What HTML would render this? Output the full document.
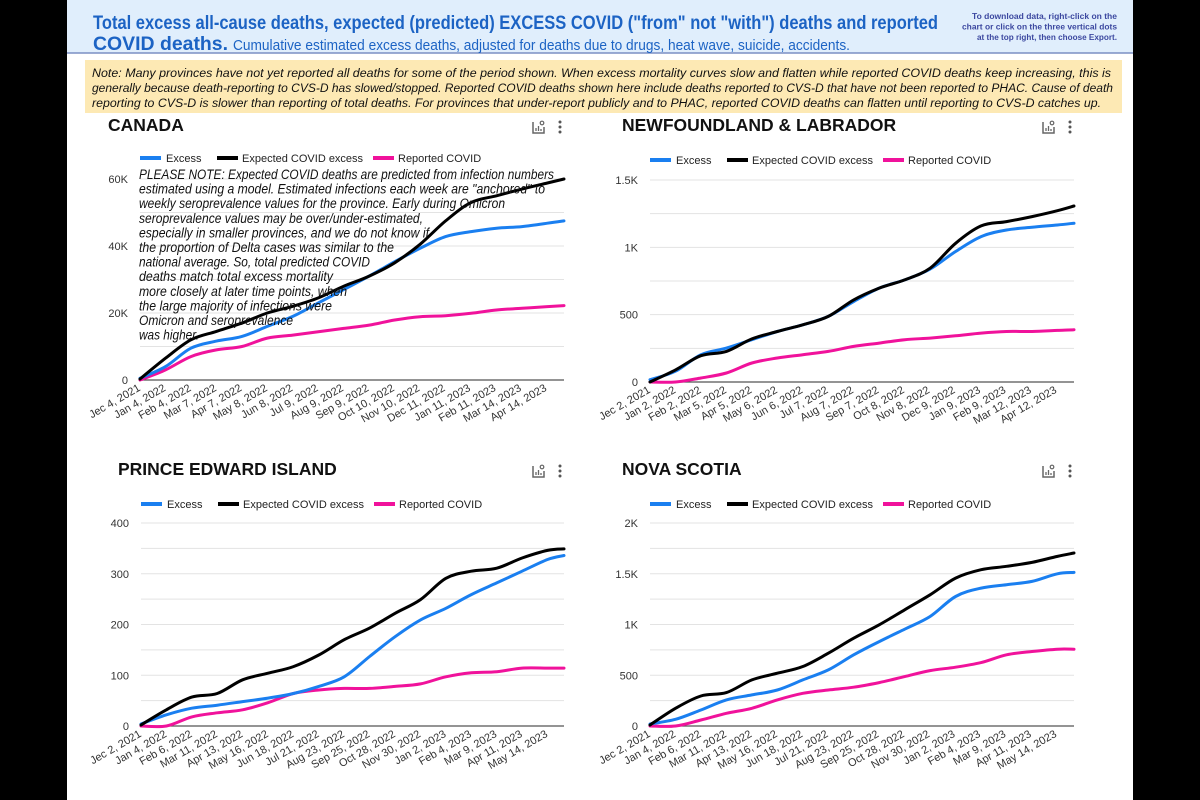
<!DOCTYPE html>
<html><head><meta charset="utf-8"><style>
html,body{margin:0;padding:0;background:#000;width:1200px;height:800px;overflow:hidden}
svg{display:block;font-family:"Liberation Sans",Arial,sans-serif}
</style></head><body>
<svg id="root" width="1200" height="800" viewBox="0 0 1200 800">
<rect x="0" y="0" width="1200" height="800" fill="#000"/>
<rect x="67" y="0" width="1066" height="800" fill="#fff"/>
<g>
<rect x="67" y="0" width="1066" height="53" fill="#e0eefc"/>
<line x1="67" y1="53" x2="1133" y2="53" stroke="#7b8fc4" stroke-width="1.5"/>
<text x="93" y="29" font-size="19.5" font-weight="bold" fill="#1c63c4" textLength="845" lengthAdjust="spacingAndGlyphs">Total excess all-cause deaths, expected (predicted) EXCESS COVID ("from" not "with") deaths and reported</text>
<text x="93" y="50" font-size="19.5" font-weight="bold" fill="#1c63c4" textLength="135" lengthAdjust="spacingAndGlyphs">COVID deaths.</text>
<text x="233" y="50" font-size="14.5" fill="#1c63c4" textLength="617" lengthAdjust="spacingAndGlyphs">Cumulative estimated excess deaths, adjusted for deaths due to drugs, heat wave, suicide, accidents.</text>
<g font-size="8.6" font-weight="bold" fill="#3c48a0">
<text x="972" y="19" textLength="145" lengthAdjust="spacingAndGlyphs">To download data, right-click on the</text>
<text x="962" y="29.5" textLength="155" lengthAdjust="spacingAndGlyphs">chart or click on the three vertical dots</text>
<text x="977" y="40" textLength="140" lengthAdjust="spacingAndGlyphs">at the top right, then choose Export.</text>
</g></g>
<g>
<rect x="85" y="60" width="1037" height="53" fill="#fde9b4"/>
<g font-size="12.3" font-style="italic" fill="#111">
<text x="92" y="77" textLength="1019" lengthAdjust="spacingAndGlyphs">Note: Many provinces have not yet reported all deaths for some of the period shown. When excess mortality curves slow and flatten while reported COVID deaths keep increasing, this is</text>
<text x="92" y="92" textLength="1021" lengthAdjust="spacingAndGlyphs">generally because death-reporting to CVS-D has slowed/stopped. Reported COVID deaths shown here include deaths reported to CVS-D that have not been reported to PHAC. Cause of death</text>
<text x="92" y="107" textLength="1009" lengthAdjust="spacingAndGlyphs">reporting to CVS-D is slower than reporting of total deaths. For provinces that under-report publicly and to PHAC, reported COVID deaths can flatten until reporting to CVS-D catches up.</text>
</g></g>
<g id="charts"></g>
</svg>
<script>
// ---- data (monthly index 0..16 plus final point) ----
const monthIdx = [0,1,2,3,4,5,6,7,8,9,10,11,12,13,14,15,16,16.65];
const canExcess   = [0.5,4,9.5,11.6,13,16,19,23,27,31,35.3,39.3,42.8,44.3,45.3,45.8,46.8,47.5];
const canExpected = [0.3,6.5,12,14.5,17,20,22,24.5,28,31,35,40.5,47.5,53,55,57,58.8,60];
const canReported = [0,3,7,9,10,12.5,13.4,14.4,15.4,16.4,17.9,18.9,19.2,19.9,20.9,21.4,21.9,22.2];
const nlExcess   = [17,80,203,252,314,375,425,487,598,697,758,838,969,1080,1129,1149,1166,1179];
const nlExpected = [0,90,195,227,320,375,425,487,610,697,758,845,1030,1159,1191,1228,1272,1307];
const nlReported = [0,0,30,67,141,178,203,227,264,289,314,326,343,363,375,375,383,388];
const peiExcess   = [4,22,35,41,48,55,64,78,97,137,176,209,232,259,282,305,328,336];
const peiExpected = [2,32,57,64,91,104,117,140,170,193,222,249,291,305,311,331,346,349];
const peiReported = [0,0,18,26,32,46,64,71,74,74,78,83,97,105,107,114,114,114];
const nsExcess   = [20,66,158,257,306,355,454,553,701,832,954,1079,1276,1359,1392,1425,1500,1513];
const nsExpected = [10,174,296,329,454,520,586,717,865,997,1145,1293,1457,1540,1573,1612,1671,1704];
const nsReported = [0,0,59,125,174,257,322,355,382,428,487,546,579,625,701,734,757,757];
const canTicks = ["0","20K","40K","60K"];
const nlTicks = ["0","500","1K","1.5K"];
const peiTicks = ["0","100","200","300","400"];
const nsTicks = ["0","500","1K","1.5K","2K"];
const canLabels = ["Jec 4, 2021","Jan 4, 2022","Feb 4, 2022","Mar 7, 2022","Apr 7, 2022","May 8, 2022","Jun 8, 2022","Jul 9, 2022","Aug 9, 2022","Sep 9, 2022","Oct 10, 2022","Nov 10, 2022","Dec 11, 2022","Jan 11, 2023","Feb 11, 2023","Mar 14, 2023","Apr 14, 2023"];
const nlLabels = ["Jec 2, 2021","Jan 2, 2022","Feb 2, 2022","Mar 5, 2022","Apr 5, 2022","May 6, 2022","Jun 6, 2022","Jul 7, 2022","Aug 7, 2022","Sep 7, 2022","Oct 8, 2022","Nov 8, 2022","Dec 9, 2022","Jan 9, 2023","Feb 9, 2023","Mar 12, 2023","Apr 12, 2023"];
const peiLabels = ["Jec 2, 2021","Jan 4, 2022","Feb 6, 2022","Mar 11, 2022","Apr 13, 2022","May 16, 2022","Jun 18, 2022","Jul 21, 2022","Aug 23, 2022","Sep 25, 2022","Oct 28, 2022","Nov 30, 2022","Jan 2, 2023","Feb 4, 2023","Mar 9, 2023","Apr 11, 2023","May 14, 2023"];
const nsLabels = peiLabels;

const NS = "http://www.w3.org/2000/svg";
const root = document.getElementById('charts');
function mk(tag, attrs, parent){const e=document.createElementNS(NS,tag);for(const k in attrs)e.setAttribute(k,attrs[k]);(parent||root).appendChild(e);return e;}

function smooth(pts){
  let d="M"+pts[0][0].toFixed(1)+","+pts[0][1].toFixed(1);
  for(let i=0;i<pts.length-1;i++){
    const p0=pts[i-1]||pts[i],p1=pts[i],p2=pts[i+1],p3=pts[i+2]||p2;
    const c1=[p1[0]+(p2[0]-p0[0])/6,p1[1]+(p2[1]-p0[1])/6];
    const c2=[p2[0]-(p3[0]-p1[0])/6,p2[1]-(p3[1]-p1[1])/6];
    d+=" C"+c1.map(v=>v.toFixed(1)).join(",")+" "+c2.map(v=>v.toFixed(1)).join(",")+" "+p2[0].toFixed(1)+","+p2[1].toFixed(1);
  }
  return d;
}

function chart(o){
  const g=mk('g',{});
  
  
  const t=mk('text',{x:o.tx,y:o.ty,'font-size':17.5,'font-weight':'bold',fill:'#111'},g);
  t.textContent=o.title;
  
  
  const ic=mk('g',{transform:`translate(${o.iconX},${o.ty-10})`},g);
  
  
  mk('path',{d:'M1,1 V12 H12 V6',fill:'none',stroke:'#666','stroke-width':1.5},ic);
  mk('path',{d:'M4,10 V7 M6.5,10 V5 M9,10 V8',stroke:'#666','stroke-width':1.3},ic);
  mk('circle',{cx:10,cy:2,r:1.8,fill:'none',stroke:'#666','stroke-width':1.2},ic);
  const dots=mk('g',{},g);
  
  
  for(let k=0;k<3;k++) mk('circle',{cx:o.iconX+28,cy:o.ty-9+k*5,r:1.5,fill:'#555'},dots);
  const x0=o.x0,x1=o.x1,y0=o.y0,yTop=o.yTop;
  const xs=m=>x0+ (m/16.65)*(x1-x0);
  const ys=v=>y0-(v/o.max)*(y0-yTop);
  const step=o.max/o.nGrid;
  for(let k=1;k<=o.nGrid;k++){
    const gl=mk('line',{x1:x0,x2:x1,y1:ys(k*step),y2:ys(k*step),stroke:'#e3e3e3','stroke-width':1},g);
    
    
  }
  o.ticks.forEach((lab,i)=>{
    const v=i*o.max/(o.ticks.length-1);
    const tt=mk('text',{x:x0-12,y:ys(v)+4,'font-size':11,fill:'#333','text-anchor':'end'},g);
    tt.textContent=lab;
    
    
  });
  const ax=mk('line',{x1:x0,x2:x1,y1:y0,y2:y0,stroke:'#555','stroke-width':1.2},g);
  
  
  o.labels.forEach((lab,i)=>{
    const lx=x0+1+i*25.4, ly=y0+10;
    const xt=mk('text',{x:lx,y:ly,'font-size':11,fill:'#333','text-anchor':'end',transform:`rotate(-30 ${lx} ${ly})`},g);
    xt.textContent=lab;
    
    
  });
  const lg=mk('g',{},g);
  
  
  const ly=o.legY;
  [['Excess','#1a7ff0',0,26],['Expected COVID excess','#000',77,102],['Reported COVID','#f0129b',233,258]].forEach(e=>{
    const le=mk('g',{},lg);
    
    
    mk('line',{x1:x0+e[2],x2:x0+e[2]+21,y1:ly,y2:ly,stroke:e[1],'stroke-width':4},le);
    const lt=mk('text',{x:x0+e[3],y:ly+4,'font-size':11,fill:'#222'},le);
    lt.textContent=e[0];
  });
  [[o.reported,'#f0129b','reported-covid-line'],[o.excess,'#1a7ff0','excess-line'],[o.expected,'#000','expected-covid-line']].forEach(s=>{
    const pts=monthIdx.map((m,i)=>[xs(m),ys(s[0][i])]);
    const p=mk('path',{d:smooth(pts),fill:'none',stroke:s[1],'stroke-width':3,'stroke-linejoin':'round','stroke-linecap':'round'},g);
    
    
  });
  return g;
}

chart({name:'canada-chart',title:'CANADA',tx:108,ty:131,iconX:532,x0:140,x1:564,y0:380,yTop:179,max:60,nGrid:6,ticks:canTicks,labels:canLabels,legY:158,excess:canExcess,expected:canExpected,reported:canReported});
chart({name:'newfoundland-chart',title:'NEWFOUNDLAND & LABRADOR',tx:622,ty:131,iconX:1042,x0:650,x1:1074,y0:382,yTop:180,max:1500,nGrid:6,ticks:nlTicks,labels:nlLabels,legY:160,excess:nlExcess,expected:nlExpected,reported:nlReported});
chart({name:'pei-chart',title:'PRINCE EDWARD ISLAND',tx:118,ty:475,iconX:532,x0:141,x1:564,y0:726,yTop:523,max:400,nGrid:8,ticks:peiTicks,labels:peiLabels,legY:504,excess:peiExcess,expected:peiExpected,reported:peiReported});
chart({name:'nova-scotia-chart',title:'NOVA SCOTIA',tx:622,ty:475,iconX:1042,x0:650,x1:1074,y0:726,yTop:523,max:2000,nGrid:8,ticks:nsTicks,labels:nsLabels,legY:504,excess:nsExcess,expected:nsExpected,reported:nsReported});

const noteLines=["PLEASE NOTE: Expected COVID deaths are predicted from infection numbers","estimated using a model. Estimated infections each week are \"anchored\" to","weekly seroprevalence values for the province. Early during Omicron","seroprevalence values may be over/under-estimated,","especially in smaller provinces, and we do not know if","the proportion of Delta cases was similar to the","national average. So, total predicted COVID","deaths match total excess mortality","more closely at later time points, when","the large majority of infections were","Omicron and seroprevalence","was higher."];
const noteWidths=[415,406,366,284,290,255,231,194,208,193,154,60];
const ng=mk('g',{'font-size':13.6,'font-style':'italic',fill:'#111'});


noteLines.forEach((l,i)=>{const t=mk('text',{x:139,y:179+i*14.6,textLength:noteWidths[i],lengthAdjust:'spacingAndGlyphs'},ng);t.textContent=l;});
</script>
</body></html>
